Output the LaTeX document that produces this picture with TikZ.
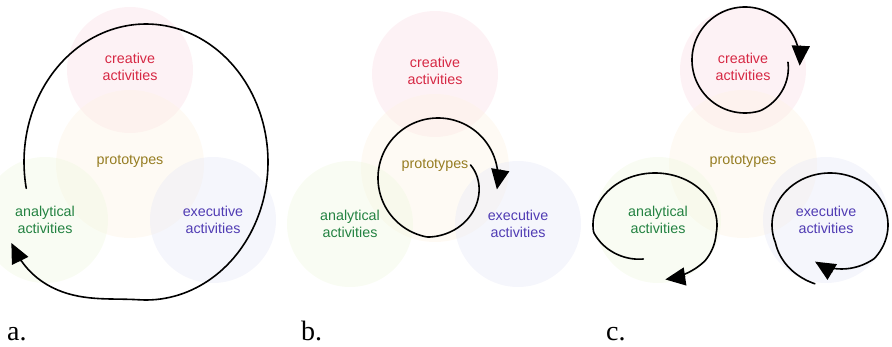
\documentclass[tikz,border=0pt]{standalone}
\usepackage{fontspec}
\setmainfont{Liberation Sans}
\newfontfamily\panelfont{Liberation Serif}
\usetikzlibrary{arrows.meta}

\definecolor{crtext}{RGB}{214,40,68}
\definecolor{prtext}{RGB}{150,125,35}
\definecolor{antext}{RGB}{35,130,65}
\definecolor{extext}{RGB}{80,60,180}
\definecolor{pinkfill}{RGB}{251,222,229}
\definecolor{yellowfill}{RGB}{253,243,226}
\definecolor{greenfill}{RGB}{240,248,224}
\definecolor{bluefill}{RGB}{229,231,246}

\tikzset{
  blob/.style={circle, draw=none, inner sep=0pt, minimum size=126pt, fill opacity=0.38},
  tag/.style={align=center, inner sep=0pt, font=\fontsize{14.3}{17}\selectfont},
  cyclearrow/.style={draw=black, line width=1.6pt, line cap=round, line join=round,
    -{Triangle[length=20pt,width=18pt]}},
  panel/.style={anchor=base west, inner sep=0pt, font=\panelfont\fontsize{28}{30}\selectfont},
  trio/.pic={
    \node[blob, fill=pinkfill] (cre-c) at (0,0) {};
    \node[blob, fill=yellowfill, minimum size=148pt] (pro-c) at (0,94) {};
    \node[blob, fill=greenfill] (ana-c) at (-85,150) {};
    \node[blob, fill=bluefill] (exe-c) at (83,150) {};
    \node[tag, text=crtext] (cre) at (0,-3) {creative\\activities};
    \node[tag, text=prtext] (pro) at (0,91) {prototypes};
    \node[tag, text=antext] (ana) at (-85,150) {analytical\\activities};
    \node[tag, text=extext] (exe) at (83,150) {executive\\activities};
  },
  % radius factors of the spiralling loops, as functions of the angle
  declare function={
    ra(\t)  = 1+0.125*(1-cos(180*min(1,max(0,(\t-453)/55))));
    rb(\t)  = min(60,35+25*(\t+22)/122);
    rcc(\t) = 43+10*min(1,(\t-3)/70)+2*max(0,(\t-300)/66);
    rca(\t) = 1-0.32*max(0,(172-\t)/66)+0.06*max(0,min(1,(\t-370)/30));
    rce(\t) = 1+0.16*max(0,(160-\t)/57)-0.25*max(0,(\t-400)/70);
  }
}

\begin{document}
\begin{tikzpicture}[x=1pt, y=-1pt]
  \useasboundingbox (0,0) rectangle (892,347);

  % three copies of the four overlapping activity circles
  \pic (a-) at (130,70) {trio};
  \pic (b-) at (435,74) {trio};
  \pic (c-) at (743,70) {trio};

  % a. one large cycle round all activities
  \draw[cyclearrow] plot[domain=169:512, samples=160, variable=\t]
    ({146+122*ra(\t)*cos(\t)}, {162+138*ra(\t)*sin(\t)});

  % b. a cycle round the prototypes
  \draw[cyclearrow] plot[domain=-22:371, samples=160, variable=\t]
    ({438+rb(\t)*cos(\t)}, {178+rb(\t)*sin(\t)});

  % c. a cycle inside each activity
  \draw[cyclearrow] plot[domain=3:366, samples=160, variable=\t]
    ({745+rcc(\t)*cos(\t)}, {60+rcc(\t)*sin(\t)});
  \draw[cyclearrow] plot[domain=106:441, samples=160, variable=\t]
    ({655+62*rca(\t)*cos(\t)}, {225+52*rca(\t)*sin(\t)});
  \draw[cyclearrow] plot[domain=103:470, samples=160, variable=\t]
    ({830+58*rce(\t)*cos(\t)}, {225+52*rce(\t)*sin(\t)});

  % panel letters
  \node[panel] (la) at (7,341) {a.};
  \node[panel] (lb) at (301,341) {b.};
  \node[panel] (lc) at (606,341) {c.};
\end{tikzpicture}
\end{document}
